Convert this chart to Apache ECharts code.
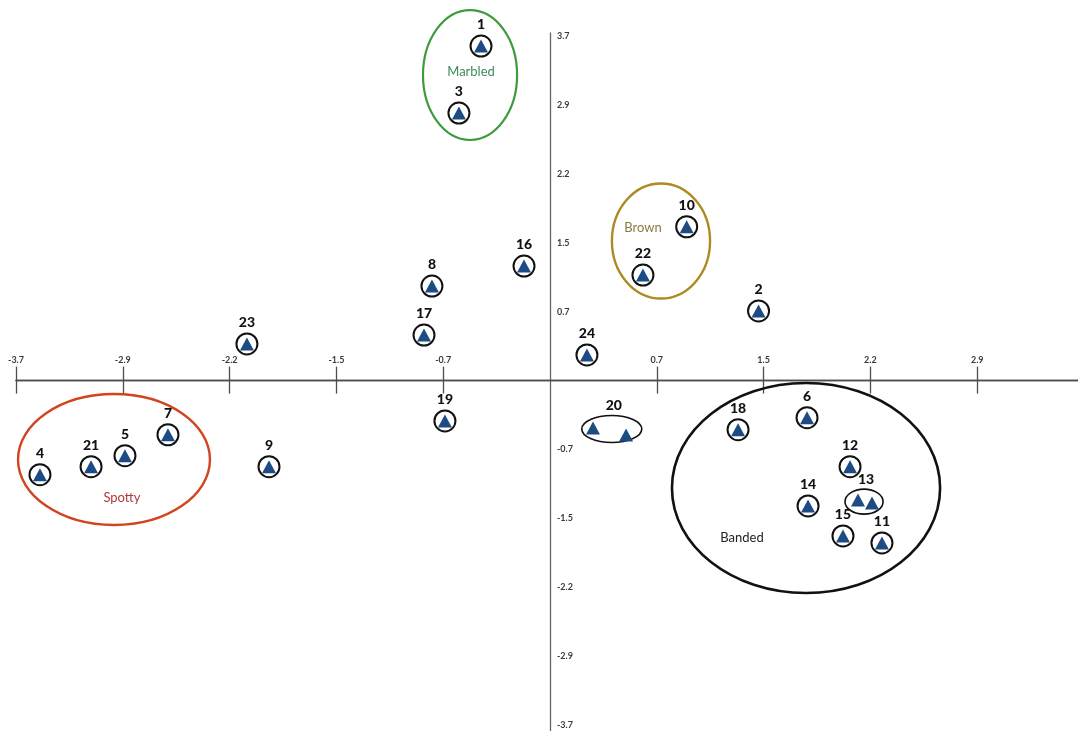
<!DOCTYPE html>
<html>
<head>
<meta charset="utf-8">
<script src="https://cdn.jsdelivr.net/npm/echarts@6/dist/echarts.min.js"></script>
<style>
  html, body { margin: 0; padding: 0; background: #ffffff; }
  #chart { width: 1078px; height: 731px; }
</style>
</head>
<body>
<div id="chart"></div>
<script>
// Specimen scores on the first two ordination axes (single specimens)
const specimenIds = ['1', '3', '16', '8', '17', '23', '24', '19', '10', '22', '2',
                     '9', '7', '5', '21', '4', '18', '6', '12', '14', '15', '11'];
const specimenX = [-0.478, -0.631, -0.180, -0.818, -0.873, -2.100, 0.256, -0.728, 0.947, 0.644, 1.445,
                   -1.947, -2.647, -2.945, -3.180, -3.534, 1.303, 1.781, 2.079, 1.788, 2.030, 2.300];
const specimenY = [3.590, 2.871, 1.229, 1.015, 0.489, 0.393, 0.275, -0.433, 1.651, 1.133, 0.747,
                   -0.924, -0.581, -0.806, -0.924, -1.010, -0.527, -0.398, -0.924, -1.345, -1.667, -1.742];

// Specimens shown as two scores inside one outline
const pairIds = ['20', '13'];
const pairPointX = [[0.298, 0.527], [2.134, 2.231]];
const pairPointY = [[-0.508, -0.583], [-1.281, -1.313]];
const pairCenterX = [0.428, 2.176];
const pairCenterY = [-0.519, -1.299];
const pairRadiusX = [0.208, 0.132];
const pairRadiusY = [0.145, 0.134];

// Colour-pattern groups outlined on the plot
const groupNames = ['Marbled', 'Brown', 'Spotty', 'Banded'];
const groupCenterX = [-0.554, 0.769, -3.021, 1.774];
const groupCenterY = [3.279, 1.498, -0.847, -1.152];
const groupRadiusX = [0.326, 0.340, 0.665, 0.929];
const groupRadiusY = [0.697, 0.617, 0.703, 1.127];
const groupLabelX = [-0.547, 0.644, -2.966, 1.330];
const groupLabelY = [3.311, 1.637, -1.260, -1.689];

// Axis ticks and their printed labels
const tickValues = [-3.7, -2.96, -2.22, -1.48, -0.74, 0.74, 1.48, 2.22, 2.96, 3.7];
const tickLabels = ['-3.7', '-2.9', '-2.2', '-1.5', '-0.7', '0.7', '1.5', '2.2', '2.9', '3.7'];

// Axis extents
const X_MIN = -3.7, X_MAX = 3.7;
const Y_MIN = -3.76, Y_MAX = 3.73;

// ---- layout & styling ----
const PLOT = { left: 16, top: 33, width: 1068, height: 698 };
// pixel position of the value-0 crossing inside the plot area
const ZERO_X = PLOT.left + PLOT.width * (0 - X_MIN) / (X_MAX - X_MIN);
const ZERO_Y = PLOT.top + PLOT.height * (Y_MAX - 0) / (Y_MAX - Y_MIN);

const FONT = 'Lato, "Open Sans", "DejaVu Sans", sans-serif';
const groupStyle = {
  Marbled: { line: '#3f9a3c', text: '#3d8a5c', width: 2.2 },
  Brown:   { line: '#ad8a22', text: '#8a7a42', width: 2.4 },
  Spotty:  { line: '#d2431f', text: '#b23838', width: 2.4 },
  Banded:  { line: '#111111', text: '#222222', width: 2.6 }
};
const TRIANGLE = '#1d4c85';
const AXIS_LINE = { color: '#4d4d4d', width: 1.3 };
const TICK_FONT = { fontSize: 9, fontWeight: 'bold', fontFamily: FONT, color: '#3a3a3a' };

function tickText(v) {
  const i = tickValues.findIndex(t => Math.abs(t - v) < 1e-6);
  return i < 0 ? '' : tickLabels[i];
}

const singleData = specimenIds.map((id, i) => [specimenX[i], specimenY[i], id]);
const triangleData = singleData.slice();
pairIds.forEach((id, k) => {
  pairPointX[k].forEach((x, j) => triangleData.push([x, pairPointY[k][j], id]));
});
const pairData = pairIds.map((id, k) =>
  [pairCenterX[k], pairCenterY[k], pairRadiusX[k], pairRadiusY[k], k]);
const groupData = groupNames.map((n, k) =>
  [groupCenterX[k], groupCenterY[k], groupRadiusX[k], groupRadiusY[k], groupLabelX[k], groupLabelY[k], k]);

const hiddenAxis = (extra) => Object.assign({
  type: 'value', show: false, splitLine: { show: false }
}, extra);

const chart = echarts.init(document.getElementById('chart'), null, { renderer: 'canvas' });

const option = {
  animation: false,
  backgroundColor: '#ffffff',
  grid: [
    // 0: plotting area (axes hidden; drawn through the crossing grids below)
    Object.assign({ containLabel: false, outerBoundsMode: 'none' }, PLOT),
    // 1: horizontal axis, ticks and labels above the zero line
    { left: PLOT.left, width: PLOT.width, top: ZERO_Y, height: PLOT.top + PLOT.height - ZERO_Y,
      containLabel: false, outerBoundsMode: 'none' },
    // 2: horizontal axis, ticks below the zero line
    { left: PLOT.left, width: PLOT.width, top: PLOT.top, height: ZERO_Y - PLOT.top,
      containLabel: false, outerBoundsMode: 'none' },
    // 3: vertical axis at zero, labels to its right
    { left: ZERO_X, width: PLOT.left + PLOT.width - ZERO_X, top: PLOT.top, height: PLOT.height,
      containLabel: false, outerBoundsMode: 'none' }
  ],
  xAxis: [
    hiddenAxis({ gridIndex: 0, min: X_MIN, max: X_MAX }),
    {
      type: 'value', gridIndex: 1, min: X_MIN, max: X_MAX, position: 'top',
      axisLine: { show: true, onZero: false, lineStyle: AXIS_LINE },
      axisTick: { show: true, inside: false, length: 14, customValues: tickValues, lineStyle: AXIS_LINE },
      axisLabel: Object.assign({ show: true, customValues: tickValues, formatter: tickText, margin: 16 }, TICK_FONT),
      splitLine: { show: false }
    },
    {
      type: 'value', gridIndex: 2, min: X_MIN, max: X_MAX, position: 'bottom',
      axisLine: { show: true, onZero: false, lineStyle: AXIS_LINE },
      axisTick: { show: true, inside: false, length: 13, customValues: tickValues, lineStyle: AXIS_LINE },
      axisLabel: { show: false },
      splitLine: { show: false }
    },
    hiddenAxis({ gridIndex: 3, min: 0, max: X_MAX })
  ],
  yAxis: [
    hiddenAxis({ gridIndex: 0, min: Y_MIN, max: Y_MAX }),
    hiddenAxis({ gridIndex: 1, min: Y_MIN, max: 0 }),
    hiddenAxis({ gridIndex: 2, min: 0, max: Y_MAX }),
    {
      type: 'value', gridIndex: 3, min: Y_MIN, max: Y_MAX, position: 'left',
      axisLine: { show: true, onZero: false, lineStyle: { color: '#666666', width: 1.3 } },
      axisTick: { show: false },
      axisLabel: Object.assign({ show: true, inside: true, customValues: tickValues, formatter: tickText, margin: 7 }, TICK_FONT),
      splitLine: { show: false }
    }
  ],
  series: [
    {
      // group outlines with their names
      type: 'custom', name: 'groups', silent: true, clip: false, z: 1,
      xAxisIndex: 0, yAxisIndex: 0,
      data: groupData,
      renderItem(params, api) {
        const c = api.coord([api.value(0), api.value(1)]);
        const s = api.size([api.value(2), api.value(3)]);
        const t = api.coord([api.value(4), api.value(5)]);
        const name = groupNames[api.value(6)];
        const st = groupStyle[name];
        return {
          type: 'group',
          children: [
            { type: 'ellipse', shape: { cx: c[0], cy: c[1], rx: s[0], ry: s[1] },
              style: { fill: 'none', stroke: st.line, lineWidth: st.width } },
            { type: 'text', x: t[0], y: t[1],
              style: { text: name, fill: st.text, fontSize: 13, fontFamily: FONT,
                       align: 'center', verticalAlign: 'middle' } }
          ]
        };
      }
    },
    {
      // outlines around paired specimens, numbered above
      type: 'custom', name: 'pairs', silent: true, clip: false, z: 2,
      xAxisIndex: 0, yAxisIndex: 0,
      data: pairData,
      renderItem(params, api) {
        const c = api.coord([api.value(0), api.value(1)]);
        const s = api.size([api.value(2), api.value(3)]);
        const id = pairIds[api.value(4)];
        return {
          type: 'group',
          children: [
            { type: 'ellipse', shape: { cx: c[0], cy: c[1], rx: s[0], ry: s[1] },
              style: { fill: '#ffffff', stroke: '#111111', lineWidth: 1.6 } },
            { type: 'text', x: c[0] + 2, y: c[1] - s[1] - 3,
              style: { text: id, fill: '#111111', fontSize: 14, fontWeight: 900, fontFamily: FONT,
                       align: 'center', verticalAlign: 'bottom' } }
          ]
        };
      }
    },
    {
      // ringed specimens with their numbers
      type: 'scatter', name: 'specimens', silent: true, z: 3,
      xAxisIndex: 0, yAxisIndex: 0,
      data: singleData,
      symbol: 'circle', symbolSize: 21,
      itemStyle: { color: '#ffffff', borderColor: '#111111', borderWidth: 2, opacity: 1 },
      label: {
        show: true, position: 'top', distance: 3,
        formatter: p => p.value[2],
        fontSize: 14, fontWeight: 900, fontFamily: FONT, color: '#111111'
      }
    },
    {
      // triangle markers for every score
      type: 'scatter', name: 'scores', silent: true, z: 4,
      xAxisIndex: 0, yAxisIndex: 0,
      data: triangleData,
      symbol: 'triangle', symbolSize: [14, 13],
      itemStyle: { color: TRIANGLE, opacity: 1 }
    }
  ]
};

chart.setOption(option);
</script>
</body>
</html>
